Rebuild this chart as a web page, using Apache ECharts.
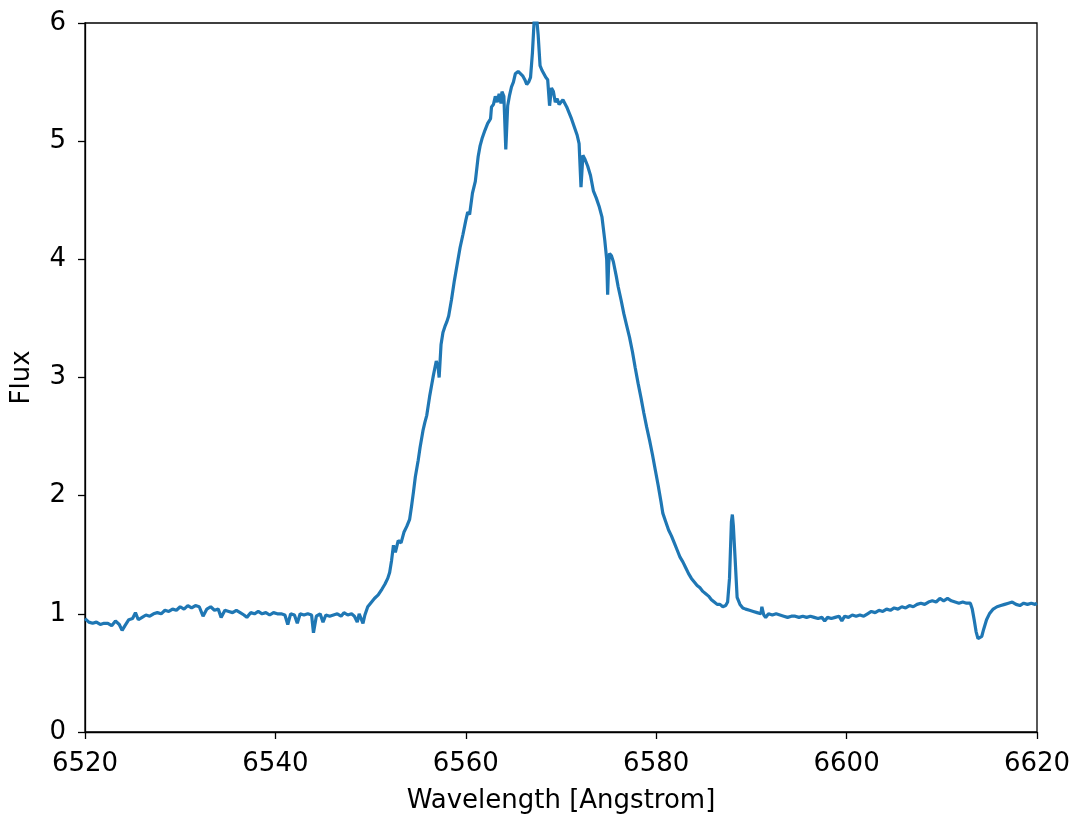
<!DOCTYPE html>
<html>
<head>
<meta charset="utf-8">
<script src="https://cdn.jsdelivr.net/npm/echarts@6/dist/echarts.min.js"></script>
<style>
html,body{margin:0;padding:0;background:#fff;}
#chart{width:1080px;height:819px;}
</style>
</head>
<body>
<div id="chart"></div>
<script>
const xTicks = [6520, 6540, 6560, 6580, 6600, 6620];
const yTicks = [0, 1, 2, 3, 4, 5, 6];
const xLabel = "Wavelength [Angstrom]";
const yLabel = "Flux";

const wavelength = [
6520.0,6520.4,6520.8,6521.2,6521.6,6522.0,6522.4,6522.8,6523.2,6523.6,6523.9,6524.2,6524.6,6525.0,6525.3,6525.6,
6526.0,6526.4,6526.8,6527.2,6527.6,6528.0,6528.4,6528.8,6529.2,6529.6,6530.0,6530.4,6530.8,6531.2,6531.6,6532.0,
6532.4,6532.8,6533.2,6533.6,6534.0,6534.3,6534.7,6535.1,6535.5,6535.9,6536.3,6536.7,6537.0,6537.4,6537.8,6538.2,
6538.6,6539.0,6539.4,6539.8,6540.2,6540.6,6541.0,6541.3,6541.6,6542.0,6542.3,6542.6,6543.0,6543.4,6543.8,6544.0,
6544.3,6544.7,6545.0,6545.3,6545.7,6546.1,6546.5,6546.9,6547.2,6547.6,6548.0,6548.3,6548.6,6548.8,6549.0,6549.2,
6549.4,6549.7,6550.0,6550.4,6550.8,6551.2,6551.5,6551.8,6552.0,6552.2,6552.4,6552.6,6552.9,6553.2,6553.5,6553.8,
6554.1,6554.3,6554.5,6554.7,6555.0,6555.2,6555.5,6555.7,6555.9,6556.2,6556.4,6556.6,6556.9,6557.1,6557.2,6557.4,
6557.6,6557.8,6558.0,6558.2,6558.5,6558.8,6559.1,6559.4,6559.7,6560.0,6560.2,6560.4,6560.7,6561.0,6561.3,6561.5,
6561.7,6562.0,6562.3,6562.6,6562.7,6562.9,6563.1,6563.3,6563.5,6563.7,6563.8,6564.0,6564.2,6564.4,6564.6,6564.8,
6565.0,6565.2,6565.5,6565.7,6566.0,6566.2,6566.4,6566.6,6566.8,6567.0,6567.2,6567.4,6567.6,6567.8,6568.0,6568.2,
6568.4,6568.6,6568.8,6569.0,6569.2,6569.4,6569.6,6569.8,6570.0,6570.2,6570.4,6570.6,6570.8,6571.1,6571.4,6571.7,
6571.9,6572.1,6572.3,6572.5,6572.8,6573.1,6573.4,6573.7,6574.0,6574.3,6574.6,6574.8,6574.9,6575.0,6575.1,6575.3,
6575.5,6575.8,6576.0,6576.3,6576.6,6576.9,6577.2,6577.5,6577.8,6578.1,6578.4,6578.7,6579.0,6579.3,6579.6,6579.9,
6580.2,6580.5,6580.7,6581.0,6581.3,6581.6,6581.9,6582.2,6582.5,6582.8,6583.1,6583.4,6583.7,6584.0,6584.3,6584.6,
6584.9,6585.2,6585.5,6585.8,6586.1,6586.4,6586.7,6587.0,6587.3,6587.5,6587.7,6587.9,6588.0,6588.1,6588.3,6588.5,
6588.8,6589.1,6589.4,6589.8,6590.2,6590.6,6591.0,6591.1,6591.3,6591.5,6591.8,6592.2,6592.6,6593.0,6593.4,6593.8,
6594.2,6594.6,6595.0,6595.4,6595.8,6596.2,6596.6,6597.0,6597.4,6597.7,6598.0,6598.4,6598.8,6599.2,6599.5,6599.8,
6600.2,6600.6,6601.0,6601.4,6601.8,6602.2,6602.6,6603.0,6603.4,6603.8,6604.2,6604.6,6605.0,6605.4,6605.8,6606.2,
6606.6,6607.0,6607.4,6607.8,6608.2,6608.6,6609.0,6609.4,6609.8,6610.2,6610.6,6611.0,6611.4,6611.8,6612.2,6612.6,
6613.0,6613.2,6613.4,6613.6,6613.8,6614.0,6614.2,6614.4,6614.7,6615.0,6615.4,6615.8,6616.2,6616.6,6617.0,6617.4,
6617.8,6618.2,6618.6,6619.0,6619.4,6619.8,6620.0
];

const flux = [
0.96,0.93,0.92,0.93,0.91,0.92,0.92,0.90,0.94,0.91,0.86,0.90,0.95,0.96,1.01,0.95,
0.97,0.99,0.98,1.00,1.01,1.00,1.03,1.02,1.04,1.03,1.06,1.04,1.07,1.05,1.07,1.06,
0.98,1.04,1.06,1.03,1.04,0.97,1.03,1.02,1.01,1.03,1.01,0.99,0.97,1.01,1.00,1.02,
1.00,1.01,0.99,1.01,1.00,1.00,0.99,0.91,1.00,0.99,0.92,1.00,0.99,1.00,0.99,0.84,
0.98,1.00,0.93,0.99,0.98,0.99,1.00,0.98,1.01,0.99,1.00,0.98,0.93,1.00,0.99,0.92,
0.99,1.06,1.09,1.13,1.16,1.21,1.25,1.30,1.35,1.45,1.58,1.52,1.62,1.60,1.69,1.74,
1.80,1.91,2.03,2.16,2.30,2.41,2.55,2.62,2.68,2.84,2.93,3.02,3.14,3.08,3.00,3.28,
3.38,3.43,3.47,3.52,3.66,3.82,3.96,4.10,4.21,4.33,4.40,4.38,4.56,4.66,4.87,4.96,
5.02,5.09,5.15,5.19,5.29,5.31,5.38,5.33,5.40,5.32,5.42,5.38,4.93,5.30,5.39,5.46,
5.50,5.57,5.59,5.58,5.55,5.52,5.48,5.50,5.54,5.75,6.05,6.08,5.90,5.64,5.60,5.57,
5.54,5.52,5.30,5.45,5.42,5.33,5.36,5.31,5.32,5.35,5.36,5.29,5.25,5.19,5.12,5.05,
4.98,4.61,4.88,4.85,4.79,4.71,4.58,4.52,4.45,4.36,4.16,4.00,3.70,3.95,4.05,4.03,
3.98,3.86,3.77,3.66,3.54,3.44,3.34,3.22,3.08,2.95,2.83,2.70,2.58,2.47,2.35,2.22,
2.09,1.95,1.85,1.78,1.71,1.66,1.60,1.54,1.48,1.44,1.39,1.34,1.30,1.27,1.24,1.22,
1.19,1.17,1.15,1.12,1.10,1.08,1.08,1.06,1.07,1.10,1.30,1.78,1.84,1.75,1.45,1.14,
1.08,1.05,1.04,1.03,1.02,1.01,1.00,1.06,0.99,0.97,1.00,0.99,1.00,0.99,0.98,0.97,
0.98,0.98,0.97,0.98,0.97,0.98,0.97,0.96,0.97,0.94,0.97,0.96,0.97,0.98,0.94,0.98,
0.97,0.99,0.98,0.99,0.98,1.00,1.02,1.01,1.03,1.02,1.04,1.03,1.05,1.04,1.06,1.05,
1.07,1.06,1.08,1.09,1.08,1.10,1.11,1.10,1.13,1.11,1.13,1.11,1.10,1.09,1.10,1.09,
1.09,1.04,0.95,0.85,0.79,0.78,0.81,0.87,0.95,1.00,1.04,1.06,1.07,1.08,1.09,1.10,
1.08,1.07,1.09,1.08,1.09,1.08,1.09
];

const seriesData = wavelength.map((w, i) => [w, flux[i]]);
const font = "DejaVu Sans";

const chart = echarts.init(document.getElementById('chart'), null, {renderer: 'canvas'});
chart.setOption({
  animation: false,
  backgroundColor: '#fff',
  grid: {left: 85, right: 43, top: 23, bottom: 87, show: true, borderColor: '#000', borderWidth: 1.3, backgroundColor: 'transparent'},
  xAxis: {
    type: 'value', min: xTicks[0], max: xTicks[xTicks.length - 1], interval: xTicks[1] - xTicks[0],
    name: xLabel, nameLocation: 'middle', nameGap: 56,
    nameTextStyle: {fontFamily: font, fontSize: 26, color: '#000'},
    axisLine: {show: true, onZero: false, lineStyle: {color: '#000', width: 1.3}},
    axisTick: {show: true, inside: false, length: 7, lineStyle: {color: '#000', width: 1.3}},
    axisLabel: {fontFamily: font, fontSize: 26, color: '#000', margin: 19, formatter: v => String(v)},
    splitLine: {show: false}
  },
  yAxis: {
    type: 'value', min: yTicks[0], max: yTicks[yTicks.length - 1], interval: yTicks[1] - yTicks[0],
    name: yLabel, nameLocation: 'middle', nameGap: 50,
    nameTextStyle: {fontFamily: font, fontSize: 26, color: '#000'},
    axisLine: {show: true, onZero: false, lineStyle: {color: '#000', width: 1.3}},
    axisTick: {show: true, inside: false, length: 7, lineStyle: {color: '#000', width: 1.3}},
    axisLabel: {fontFamily: font, fontSize: 26, color: '#000', margin: 19, formatter: v => String(v)},
    splitLine: {show: false}
  },
  series: [{
    type: 'line', data: seriesData, showSymbol: false, symbol: 'none', clip: true,
    lineStyle: {color: '#1f77b4', width: 3.2}, itemStyle: {color: '#1f77b4'}
  }]
});
</script>
</body>
</html>
